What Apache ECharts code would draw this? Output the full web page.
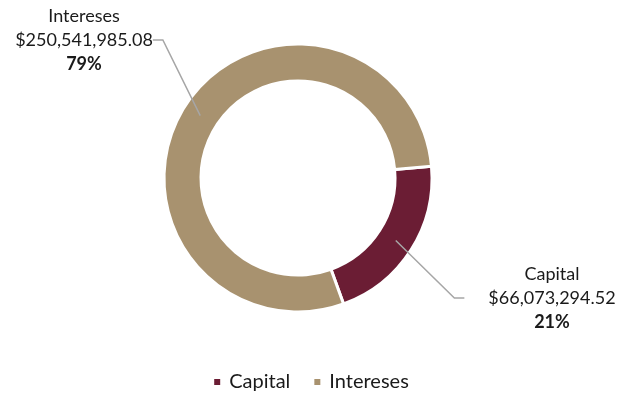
<!DOCTYPE html>
<html><head><meta charset="utf-8">
<script src="https://cdn.jsdelivr.net/npm/echarts@6/dist/echarts.min.js"></script>
<style>html,body{margin:0;padding:0;background:#fff}#c{width:621px;height:400px}</style>
</head><body><div id="c"></div>
<script>
const categories = ['Capital', 'Intereses'];
const values = [66073294.52, 250541985.08];
const colors = ['#6B1D34', '#A8926F'];
const labelCentres = [[540, 298], [84, 40]];
const labelLeftPad = [24, 0];

const fmt = v => '$' + v.toLocaleString('en-US', {minimumFractionDigits: 2, maximumFractionDigits: 2});
const FONT = 'Lato, "Noto Sans", sans-serif';
const data = categories.map((c, i) => ({name: c, value: values[i], itemStyle: {color: colors[i]}}));

const chart = echarts.init(document.getElementById('c'), null, {renderer: 'canvas'});
chart.setOption({
  animation: false,
  color: colors,
  legend: {
    bottom: 3, left: 'center', icon: 'rect', itemWidth: 8, itemHeight: 8, itemGap: 22,
    textStyle: {fontSize: 20, color: '#1a1a1a', fontFamily: FONT, padding: [0, 0, 0, 3]},
    data: categories
  },
  series: [{
    type: 'pie', center: [298, 178], radius: [97, 134], startAngle: 5, clockwise: true,
    silent: true, label: {show: false}, labelLine: {show: false},
    itemStyle: {borderColor: '#fff', borderWidth: 3},
    data: data
  }, {
    type: 'pie', center: [298, 178], radius: [0, 116], startAngle: 5, clockwise: true,
    silent: true, z: 5, percentPrecision: 0,
    itemStyle: {color: 'rgba(0,0,0,0)', borderWidth: 0},
    label: {
      show: true, position: 'outside', fontFamily: FONT, color: '#1a1a1a',
      backgroundColor: 'rgba(255,255,255,0)',
      formatter: p => '{n|' + p.name + '}\n{n|' + fmt(p.value) + '}\n{p|' + Math.round(p.percent) + '%}',
      rich: {
        n: {fontSize: 18, lineHeight: 24, align: 'center', fontFamily: FONT, color: '#1a1a1a'},
        p: {fontSize: 18, lineHeight: 24, align: 'center', fontWeight: 'bold', fontFamily: FONT, color: '#1a1a1a'}
      }
    },
    labelLine: {show: true, length: 20, length2: 10, smooth: false, lineStyle: {color: '#A6A6A6', width: 1.5}},
    labelLayout: p => ({x: labelCentres[p.dataIndex][0], y: labelCentres[p.dataIndex][1], align: 'center', verticalAlign: 'middle'}),
    data: categories.map((c, i) => ({name: c, value: values[i], label: {padding: [0, 0, 0, labelLeftPad[i]]}}))
  }]
});
</script></body></html>
